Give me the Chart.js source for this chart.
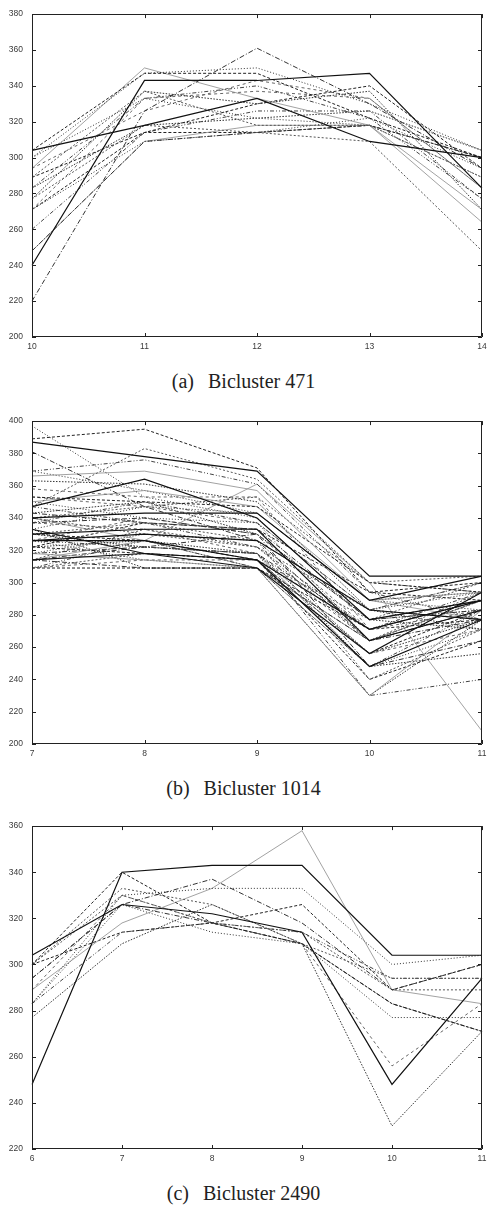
<!DOCTYPE html>
<html>
<head>
<meta charset="utf-8">
<script src="https://cdn.jsdelivr.net/npm/chart.js@4/dist/chart.umd.min.js"></script>
<style>
  body { margin: 0; width: 487px; height: 1205px; overflow: hidden; background: #fff; position: relative; }
  canvas { position: absolute; left: 0; }
  .caption { position: absolute; left: 0; width: 487px; text-align: center; font: 20px "Liberation Serif", "Times New Roman", serif; line-height: 22px; color: #222; }
  .caption span { margin-right: 14px; }
</style>
</head>
<body>
<canvas id="chartA" width="487" height="360" style="top:0px"></canvas>
<div class="caption" style="top:370px"><span>(a)</span>Bicluster 471</div>
<canvas id="chartB" width="487" height="360" style="top:407px"></canvas>
<div class="caption" style="top:777px"><span>(b)</span>Bicluster 1014</div>
<canvas id="chartC" width="487" height="360" style="top:812px"></canvas>
<div class="caption" style="top:1182px"><span>(c)</span>Bicluster 2490</div>
<script>
// columns (conditions) of each bicluster
const colsA = ['10', '11', '12', '13', '14']
const colsB = ['7', '8', '9', '10', '11']
const colsC = ['6', '7', '8', '9', '10', '11']

// expression profiles, one row per gene; solid-line rows come first
const rowsA = [
    [304, 318, 333, 309, 300],
    [240, 343, 343, 347, 283],
    [304, 347, 347, 322, 300],
    [300, 347, 350, 330, 304],
    [220, 326, 361, 330, 294],
    [289, 337, 318, 318, 289],
    [283, 333, 340, 322, 277],
    [294, 350, 333, 318, 264],
    [277, 337, 330, 337, 271],
    [271, 333, 337, 333, 283],
    [271, 314, 330, 340, 294],
    [300, 333, 322, 318, 289],
    [248, 309, 314, 318, 300],
    [277, 318, 314, 309, 248],
    [260, 314, 326, 326, 277],
    [248, 309, 318, 318, 271],
    [283, 318, 322, 326, 304],
    [294, 326, 343, 333, 283],
    [289, 314, 314, 318, 300],
    [271, 309, 314, 322, 294]
]
const rowsB = [
    [387, 378, 369, 304, 304],
    [347, 364, 340, 277, 289],
    [340, 343, 343, 289, 304],
    [330, 333, 333, 264, 283],
    [326, 326, 314, 271, 289],
    [314, 318, 314, 248, 277],
    [333, 318, 309, 256, 294],
    [326, 330, 326, 283, 277],
    [389, 395, 371, 294, 300],
    [397, 353, 340, 277, 283],
    [381, 347, 326, 264, 277],
    [347, 383, 364, 300, 304],
    [369, 376, 361, 294, 277],
    [366, 369, 357, 289, 294],
    [363, 361, 350, 283, 271],
    [358, 353, 353, 271, 283],
    [353, 350, 347, 300, 294],
    [350, 340, 337, 264, 289],
    [337, 340, 330, 248, 264],
    [330, 337, 326, 240, 271],
    [326, 322, 318, 230, 240],
    [318, 314, 309, 230, 283],
    [322, 326, 318, 248, 256],
    [309, 314, 314, 256, 271],
    [309, 309, 309, 271, 277],
    [333, 347, 343, 289, 283],
    [343, 337, 333, 277, 289],
    [340, 330, 322, 264, 294],
    [337, 350, 337, 283, 300],
    [314, 326, 361, 300, 208],
    [330, 322, 318, 256, 277],
    [326, 340, 330, 271, 289],
    [322, 318, 314, 240, 264],
    [318, 330, 326, 283, 294],
    [314, 309, 309, 264, 283],
    [309, 318, 314, 277, 300],
    [347, 337, 322, 271, 294],
    [350, 357, 347, 289, 277],
    [343, 350, 330, 277, 271],
    [337, 333, 318, 264, 289],
    [330, 326, 314, 256, 283],
    [326, 314, 309, 248, 271],
    [318, 322, 318, 271, 289],
    [314, 333, 322, 283, 277],
    [309, 326, 309, 248, 283],
    [340, 326, 309, 264, 289],
    [333, 309, 309, 230, 277],
    [353, 347, 337, 283, 300],
    [322, 337, 333, 294, 289],
    [369, 357, 343, 289, 294],
    [314, 322, 330, 277, 283],
    [340, 347, 353, 300, 294]
]
const rowsC = [
    [248, 340, 343, 343, 304, 304],
    [304, 326, 322, 314, 248, 294],
    [300, 340, 318, 309, 283, 271],
    [283, 330, 333, 333, 300, 304],
    [294, 326, 337, 318, 289, 300],
    [300, 333, 326, 309, 294, 294],
    [283, 314, 318, 314, 294, 294],
    [289, 318, 333, 358, 289, 283],
    [277, 309, 326, 309, 230, 271],
    [289, 330, 318, 309, 256, 283],
    [300, 314, 318, 326, 289, 300],
    [283, 326, 314, 309, 277, 277],
    [294, 326, 318, 309, 283, 271],
    [300, 330, 318, 314, 289, 289]
]

// gnuplot-ish monochrome line types
const lineTypes = [
    { color: '#222', dash: [3, 2], width: 1 },
    { color: '#333', dash: [1, 2], width: 1 },
    { color: '#333', dash: [5, 2, 1, 2], width: 1 },
    { color: '#555', dash: [2, 2], width: 1 },
    { color: '#444', dash: [4, 2, 1, 2, 1, 2], width: 1 },
    { color: '#8a8a8a', dash: [], width: 0.8 },
    { color: '#333', dash: [1.5, 1.5], width: 1 },
    { color: '#666', dash: [3, 3], width: 1 }
]

const tickFont = { family: 'Liberation Sans', size: 8.5 }

// plot border plus inward tick marks on all four sides
const frame = {
    id: 'frame',
    afterDatasetsDraw(chart) {
        const { ctx, chartArea: a, scales } = chart
        const len = 4
        ctx.save()
        ctx.strokeStyle = '#222'
        ctx.lineWidth = 1
        ctx.beginPath()
        ctx.rect(Math.round(a.left) + 0.5, Math.round(a.top) + 0.5, Math.round(a.width) - 1, Math.round(a.height) - 1)
        scales.y.ticks.forEach(t => {
            let py = Math.round(scales.y.getPixelForValue(t.value)) + 0.5
            ctx.moveTo(a.left, py); ctx.lineTo(a.left + len, py)
            ctx.moveTo(a.right - len, py); ctx.lineTo(a.right, py)
        })
        scales.x.ticks.forEach((t, i) => {
            let px = Math.round(scales.x.getPixelForTick(i)) + 0.5
            ctx.moveTo(px, a.bottom); ctx.lineTo(px, a.bottom - len)
            ctx.moveTo(px, a.top); ctx.lineTo(px, a.top + len)
        })
        ctx.stroke()
        ctx.restore()
    }
}

function makePanel(id, cols, rows, yMin, yMax, nSolid) {
    let datasets = rows.map((r, i) => {
        let lt = i < nSolid ? { color: '#111', dash: [], width: 1.2 } : lineTypes[(i - nSolid) % lineTypes.length]
        return {
            data: r,
            borderColor: lt.color,
            borderDash: lt.dash,
            borderWidth: lt.width,
            pointRadius: 0,
            tension: 0,
            fill: false
        }
    })
    return new Chart(document.getElementById(id), {
        type: 'line',
        data: { labels: cols, datasets: datasets },
        options: {
            responsive: false,
            animation: false,
            layout: { padding: { top: 14, right: 5, left: 0, bottom: 0 } },
            plugins: { legend: { display: false }, tooltip: { enabled: false } },
            scales: {
                x: {
                    grid: { display: false, drawTicks: false },
                    border: { display: false },
                    ticks: { font: tickFont, color: '#3a3a3a', padding: 5, maxRotation: 0, autoSkip: false },
                    afterFit: s => { s.height = 23; s.paddingLeft = 0; s.paddingRight = 0 }
                },
                y: {
                    min: yMin,
                    max: yMax,
                    grid: { display: false, drawTicks: false },
                    border: { display: false },
                    ticks: { stepSize: 20, font: tickFont, color: '#3a3a3a', padding: 9 },
                    afterFit: s => { s.width = 32 }
                }
            }
        },
        plugins: [frame]
    })
}

makePanel('chartA', colsA, rowsA, 200, 380, 2)
makePanel('chartB', colsB, rowsB, 200, 400, 8)
makePanel('chartC', colsC, rowsC, 220, 360, 2)
</script>
</body>
</html>
